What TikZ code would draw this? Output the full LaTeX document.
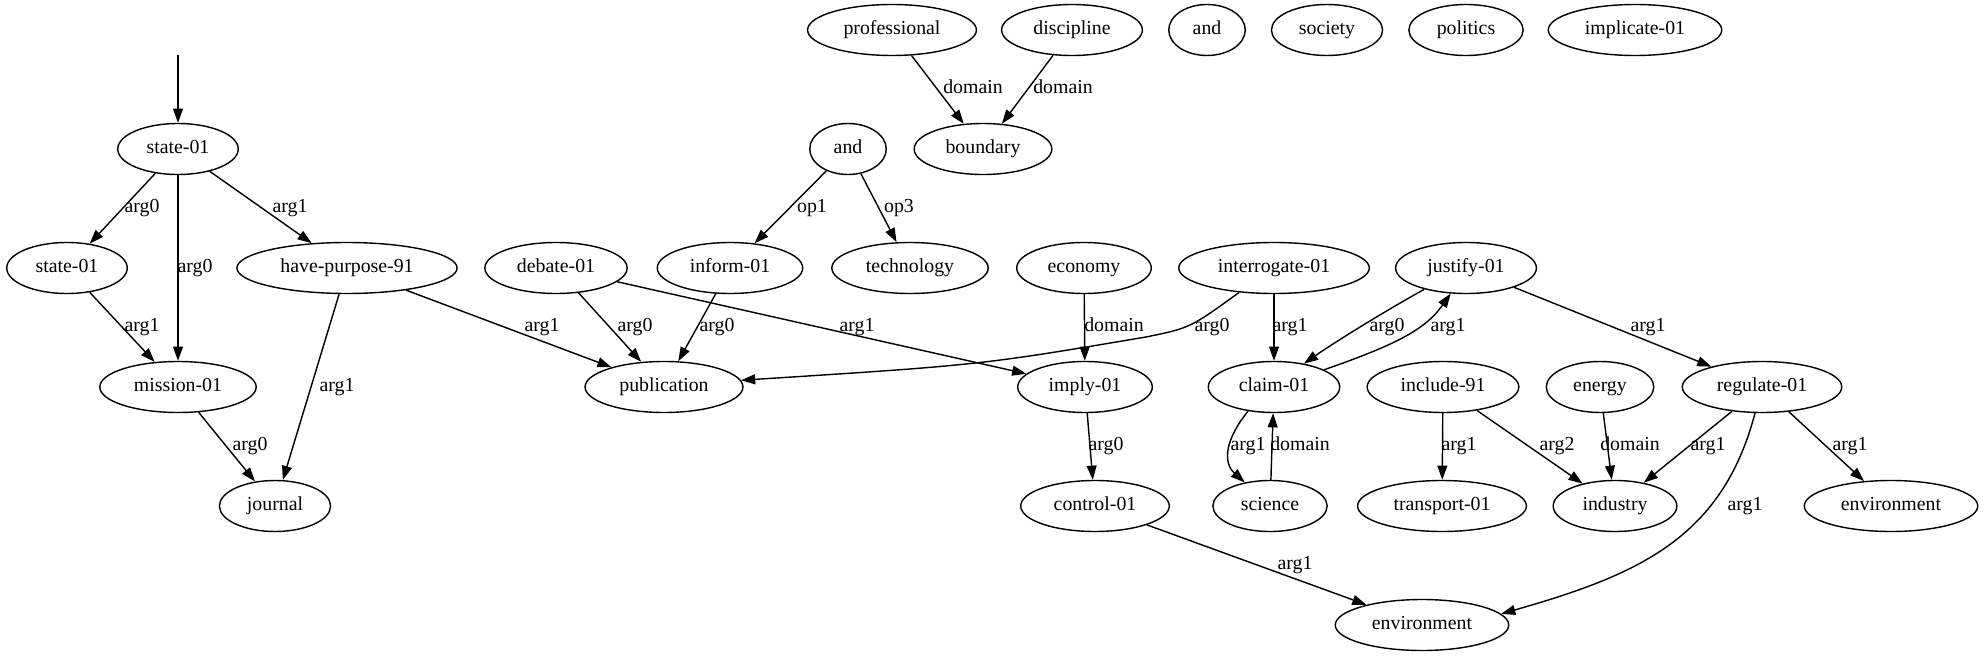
\documentclass[tikz,border=0pt]{standalone}
\usepackage{fontspec}
\setmainfont{Liberation Serif}
\usetikzlibrary{shapes.geometric,arrows.meta}
\begin{document}
\begin{tikzpicture}[x=0.7059pt,y=-0.7059pt,
  nd/.style={draw, ellipse, line width=1pt, minimum width=54pt, minimum height=36pt,
    inner xsep=7.92pt, inner ysep=2pt, font=\fontsize{14}{16}\selectfont,
    text height=9.5pt, text depth=3pt},
  lbl/.style={font=\fontsize{14}{16}\selectfont, inner sep=0pt, text height=9.5pt, text depth=3pt},
  edge/.style={line width=1pt, -{Triangle[length=10pt,width=7pt]}}]
\useasboundingbox (0,0) rectangle (1986,656);
% nodes
\node[nd] (s1) at (178,149) {state-01};
\node[nd] (s2) at (67,268) {state-01};
\node[nd] (hp) at (347,268) {have-purpose-91};
\node[nd] (deb) at (556,268) {debate-01};
\node[nd] (inf) at (730,268) {inform-01};
\node[nd] (tech) at (910,268) {technology};
\node[nd] (eco) at (1084,268) {economy};
\node[nd] (intr) at (1274,268) {interrogate-01};
\node[nd] (just) at (1466,268) {justify-01};
\node[nd] (and2) at (848,149) {and};
\node[nd] (bnd) at (983,149) {boundary};
\node[nd] (prof) at (892,30) {professional};
\node[nd] (disc) at (1072,30) {discipline};
\node[nd] (and1) at (1207,30) {and};
\node[nd] (soc) at (1327,30) {society};
\node[nd] (pol) at (1466,30) {politics};
\node[nd] (impl) at (1635,30) {implicate-01};
\node[nd] (mis) at (178,387) {mission-01};
\node[nd] (pub) at (664,387) {publication};
\node[nd] (imp) at (1085,387) {imply-01};
\node[nd] (clm) at (1274,387) {claim-01};
\node[nd] (inc) at (1443,387) {include-91};
\node[nd] (ene) at (1600,387) {energy};
\node[nd] (reg) at (1762,387) {regulate-01};
\node[nd] (jou) at (275,506) {journal};
\node[nd] (ctl) at (1095,506) {control-01};
\node[nd] (sci) at (1270,506) {science};
\node[nd] (trn) at (1442,506) {transport-01};
\node[nd] (ind) at (1615,506) {industry};
\node[nd] (env1) at (1891,506) {environment};
\node[nd] (env2) at (1422,625) {environment};
\coordinate (root) at (178,55);
% edges
\draw[edge] (root) -- (s1);
\draw[edge] (s1) -- (s2);
\draw[edge] (s1) -- (mis);
\draw[edge] (s1) -- (hp);
\draw[edge] (s2) -- (mis);
\draw[edge] (hp) -- (jou);
\draw[edge] (hp) -- (pub);
\draw[edge] (mis) -- (jou);
\draw[edge] (deb) -- (pub);
\draw[edge] (deb) -- (imp);
\draw[edge] (inf) -- (pub);
\draw[edge] (and2) -- (inf);
\draw[edge] (and2) -- (tech);
\draw[edge] (prof) -- (bnd);
\draw[edge] (disc) -- (bnd);
\draw[edge] (eco) -- (imp);
\draw[edge] (intr.215) .. controls (1190,328) .. (1146,337) .. controls (980,365) .. (pub.5);
\draw[edge] (intr) -- (clm);
\draw[edge] (just.207) .. controls (1387,310) and (1338,340) .. (clm.38);
\draw[edge] (clm.19) .. controls (1395,345) and (1425,330) .. (just.239);
\draw[edge] (just) -- (reg);
\draw[edge] (clm.223) .. controls (1226,438) and (1222,462) .. (sci.137);
\draw[edge] (sci) -- (clm);
\draw[edge] (imp) -- (ctl);
\draw[edge] (ctl) -- (env2);
\draw[edge] (inc) -- (trn);
\draw[edge] (inc) -- (ind);
\draw[edge] (ene) -- (ind);
\draw[edge] (reg) -- (ind);
\draw[edge] (reg) -- (env1);
\draw[edge] (reg.255) .. controls (1722,539) and (1637,575) .. (env2.8);
% labels
\node[lbl] (l1) at (142,208) {arg0};
\node[lbl] (l2) at (195,268) {arg0};
\node[lbl] (l3) at (290,208) {arg1};
\node[lbl] (l4) at (142,327) {arg1};
\node[lbl] (l5) at (337,387) {arg1};
\node[lbl] (l6) at (542,327) {arg1};
\node[lbl] (l7) at (635,327) {arg0};
\node[lbl] (l8) at (250,446) {arg0};
\node[lbl] (l9) at (717,327) {arg0};
\node[lbl] (l10) at (857,327) {arg1};
\node[lbl] (l11) at (812,208) {op1};
\node[lbl] (l12) at (899,208) {op3};
\node[lbl] (l13) at (973,89) {domain};
\node[lbl] (l14) at (1063,89) {domain};
\node[lbl] (l15) at (1114,327) {domain};
\node[lbl] (l16) at (1212,327) {arg0};
\node[lbl] (l17) at (1290,327) {arg1};
\node[lbl] (l18) at (1387,327) {arg0};
\node[lbl] (l19) at (1448,327) {arg1};
\node[lbl] (l20) at (1648,327) {arg1};
\node[lbl] (l21) at (1106,446) {arg0};
\node[lbl] (l22) at (1248,446) {arg1};
\node[lbl] (l23) at (1300,446) {domain};
\node[lbl] (l24) at (1295,565) {arg1};
\node[lbl] (l25) at (1459,446) {arg1};
\node[lbl] (l26) at (1557,446) {arg2};
\node[lbl] (l27) at (1630,446) {domain};
\node[lbl] (l28) at (1708,446) {arg1};
\node[lbl] (l29) at (1850,446) {arg1};
\node[lbl] (l30) at (1745,506) {arg1};
\end{tikzpicture}
\end{document}
